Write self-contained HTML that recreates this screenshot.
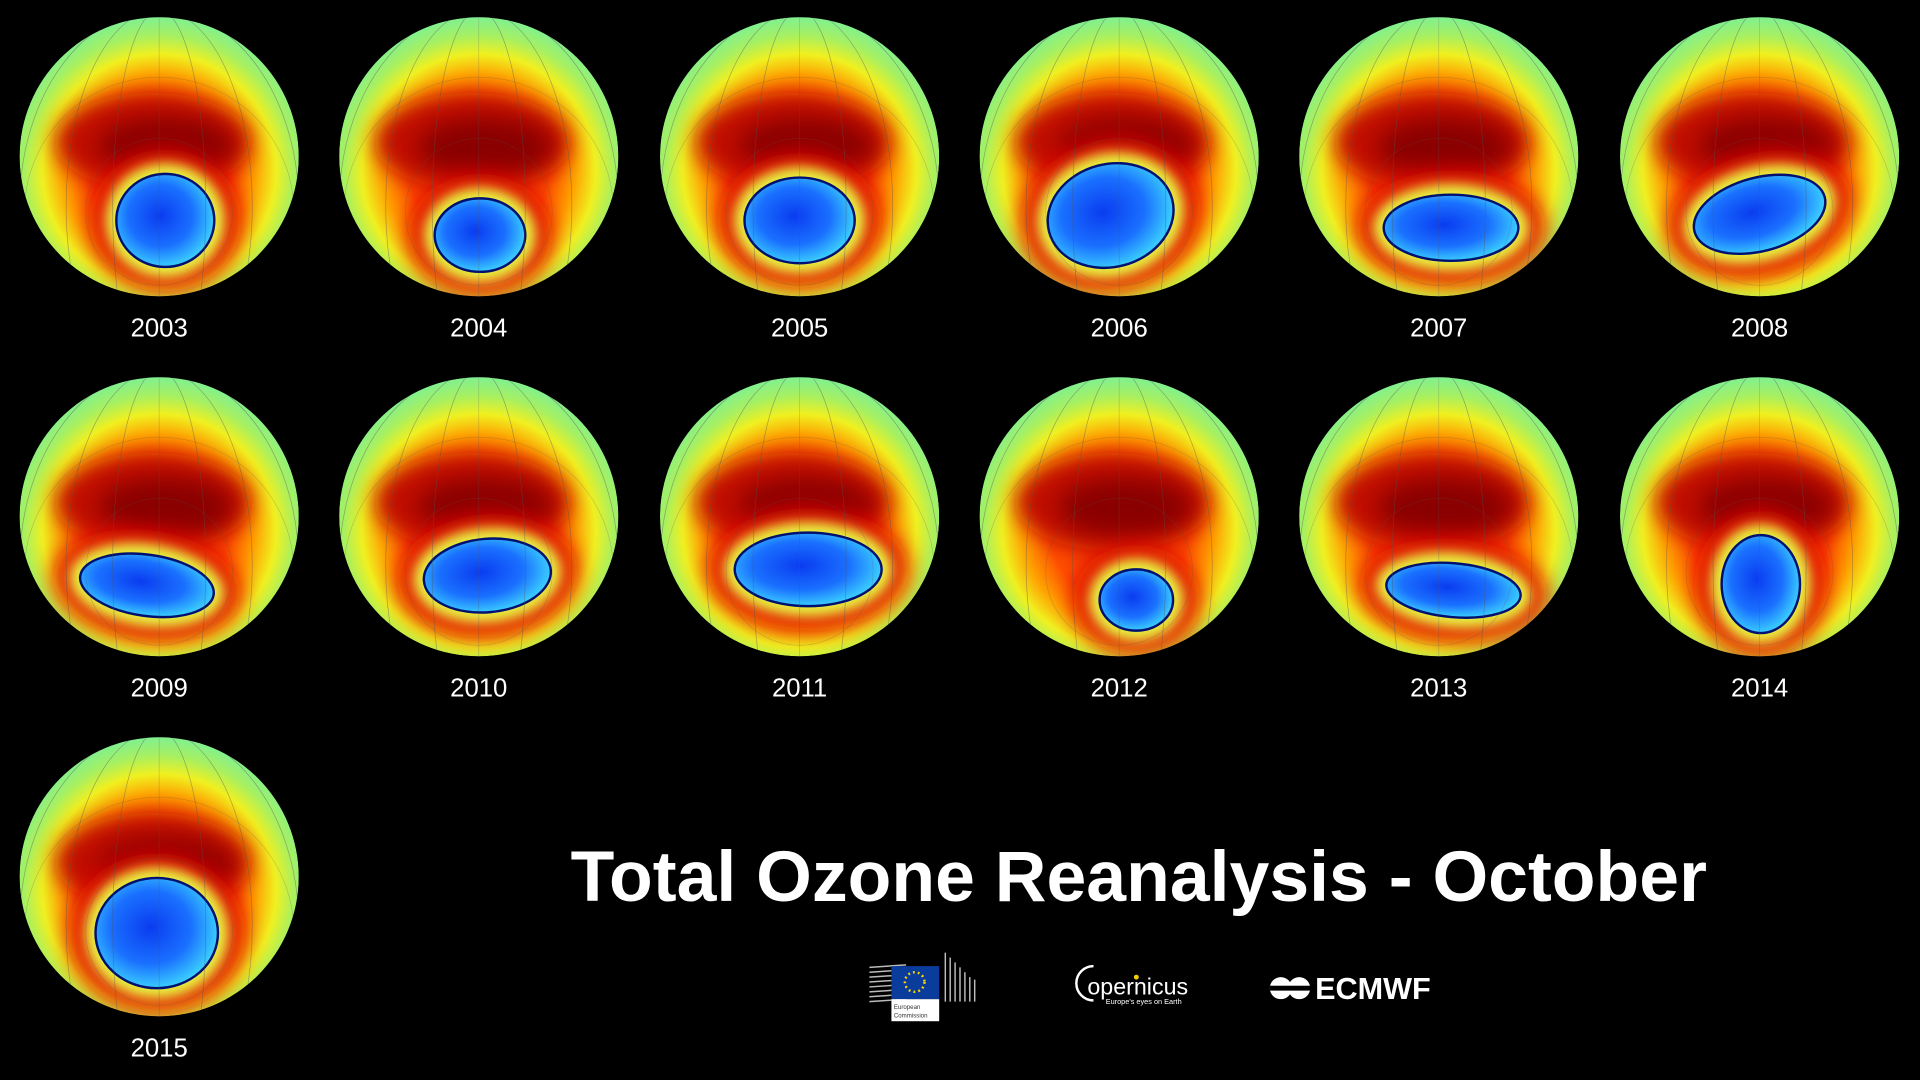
<!DOCTYPE html>
<html><head><meta charset="utf-8">
<style>
html,body{margin:0;padding:0;background:#000;width:1920px;height:1080px;overflow:hidden}
svg{display:block}
</style></head>
<body>
<svg id="s" width="1920" height="1080" viewBox="0 0 1568 882" xmlns="http://www.w3.org/2000/svg">
<defs>
<radialGradient id="bg" cx="50%" cy="55%" r="55%">
<stop offset="0" stop-color="#e83800"/>
<stop offset="0.45" stop-color="#ff5000"/>
<stop offset="0.62" stop-color="#ffa000"/>
<stop offset="0.76" stop-color="#f0f020"/>
<stop offset="0.88" stop-color="#a8f060"/>
<stop offset="1" stop-color="#80f090"/>
</radialGradient>
<radialGradient id="hole" cx="45%" cy="45%" r="60%">
<stop offset="0" stop-color="#0a3cf0"/>
<stop offset="0.55" stop-color="#1a70ff"/>
<stop offset="1" stop-color="#40e0ff"/>
</radialGradient>
<filter id="bl" x="-50%" y="-50%" width="200%" height="200%"><feGaussianBlur stdDeviation="9"/></filter>
<filter id="bl2" x="-50%" y="-50%" width="200%" height="200%"><feGaussianBlur stdDeviation="5"/></filter>
</defs>
<g id="globes"></g>
<text x="930" y="736" text-anchor="middle" fill="#fff" font-family="Liberation Sans, sans-serif" font-weight="bold" font-size="58" textLength="928" lengthAdjust="spacingAndGlyphs">Total Ozone Reanalysis - October</text>
<g>
<g stroke="#bbb" stroke-width="1.2">
<line x1="710" y1="790" x2="740" y2="788"/><line x1="710" y1="794" x2="740" y2="792"/><line x1="710" y1="798" x2="740" y2="796"/><line x1="710" y1="802" x2="740" y2="800"/><line x1="710" y1="806" x2="740" y2="804"/><line x1="710" y1="810" x2="740" y2="808"/><line x1="710" y1="814" x2="740" y2="812"/><line x1="710" y1="818" x2="740" y2="816"/>
<line x1="772" y1="778" x2="772" y2="818"/><line x1="776" y1="782" x2="776" y2="818"/><line x1="780" y1="786" x2="780" y2="818"/><line x1="784" y1="790" x2="784" y2="818"/><line x1="788" y1="794" x2="788" y2="818"/><line x1="792" y1="798" x2="792" y2="818"/><line x1="796" y1="800" x2="796" y2="818"/>
</g>
<rect x="728" y="789" width="39" height="27" fill="#0a3c9c"/>
<circle cx="747" cy="802" r="8" fill="none" stroke="#ffd700" stroke-width="2" stroke-dasharray="1.5 2.5"/>
<rect x="728" y="816" width="39" height="18" fill="#fff"/>
<text x="730" y="824" font-size="5" fill="#333" font-family="Liberation Sans, sans-serif">European</text>
<text x="730" y="831" font-size="5" fill="#333" font-family="Liberation Sans, sans-serif">Commission</text>
</g>
<g font-family="Liberation Sans, sans-serif" fill="#fff">
<path d="M893 789 A14 14 0 1 0 893 817" fill="none" stroke="#fff" stroke-width="2"/>
<text x="888" y="812" font-size="19">opernicus</text>
<circle cx="928" cy="798" r="2" fill="#f0d000"/>
<text x="903" y="820" font-size="6">Europe's eyes on Earth</text>
</g>
<g>
<circle cx="1046" cy="807" r="9" fill="#fff"/><circle cx="1061" cy="807" r="9" fill="#fff"/>
<rect x="1037" y="805" width="34" height="4" fill="#000"/>
<text x="1074" y="816" font-family="Liberation Sans, sans-serif" font-weight="bold" font-size="25" fill="#fff">ECMWF</text>
</g>
</svg>
<script>
var data=[
[130,128,2003,5,52,40,38,0],[391,128,2004,1,64,37,30,0],[653,128,2005,0,52,45,35,0],[914,128,2006,-7,48,52,42,-15],[1175,128,2007,10,58,55,27,0],[1437,128,2008,0,47,55,30,-15],
[130,422,2009,-10,56,55,25,8],[391,422,2010,7,48,52,30,-5],[653,422,2011,7,43,60,30,0],[914,422,2012,14,68,30,25,0],[1175,422,2013,12,60,55,22,5],[1437,422,2014,1,55,32,40,0],
[130,716,2015,-2,46,50,45,0]];
var g=document.getElementById('globes'),h='';
data.forEach(function(d,i){
var cx=d[0],cy=d[1],R=114,hx=cx+d[3],hy=cy+d[4];
h+='<clipPath id="c'+i+'"><circle cx="'+cx+'" cy="'+cy+'" r="'+R+'"/></clipPath>';
h+='<g clip-path="url(#c'+i+')">';
h+='<circle cx="'+cx+'" cy="'+cy+'" r="'+R+'" fill="url(#bg)"/>';
h+='<ellipse cx="'+(cx-5)+'" cy="'+(cy-12)+'" rx="80" ry="40" fill="#c01000" filter="url(#bl)"/>';
h+='<ellipse cx="'+(cx+5)+'" cy="'+(cy-8)+'" rx="55" ry="24" fill="#8a0000" filter="url(#bl)"/>';
h+='<ellipse cx="'+hx+'" cy="'+hy+'" rx="'+(d[5]+22)+'" ry="'+(d[6]+20)+'" transform="rotate('+d[7]+' '+hx+' '+hy+')" fill="#e00a00" filter="url(#bl)"/>';
h+='<ellipse cx="'+hx+'" cy="'+hy+'" rx="'+(d[5]+9)+'" ry="'+(d[6]+9)+'" transform="rotate('+d[7]+' '+hx+' '+hy+')" fill="#e8f040" filter="url(#bl2)"/>';
h+='<ellipse cx="'+hx+'" cy="'+hy+'" rx="'+d[5]+'" ry="'+d[6]+'" transform="rotate('+d[7]+' '+hx+' '+hy+')" fill="url(#hole)" stroke="#001070" stroke-width="2"/>';
for(var k=-3;k<=3;k++){h+='<ellipse cx="'+cx+'" cy="'+(cy+40)+'" rx="'+Math.abs(k*38+0.1)+'" ry="160" fill="none" stroke="#555" stroke-width="0.5" opacity="0.3"/>';}
h+='<circle cx="'+cx+'" cy="'+(cy+45)+'" r="60" fill="none" stroke="#555" stroke-width="0.5" opacity="0.3"/>';
h+='<circle cx="'+cx+'" cy="'+(cy+45)+'" r="110" fill="none" stroke="#555" stroke-width="0.5" opacity="0.3"/>';
h+='</g>';
h+='<text x="'+cx+'" y="'+(cy+147)+'" text-anchor="middle" fill="#fff" font-family="Liberation Sans, sans-serif" font-size="21">'+d[2]+'</text>';
});
g.innerHTML=h;
</script>
</body></html>
